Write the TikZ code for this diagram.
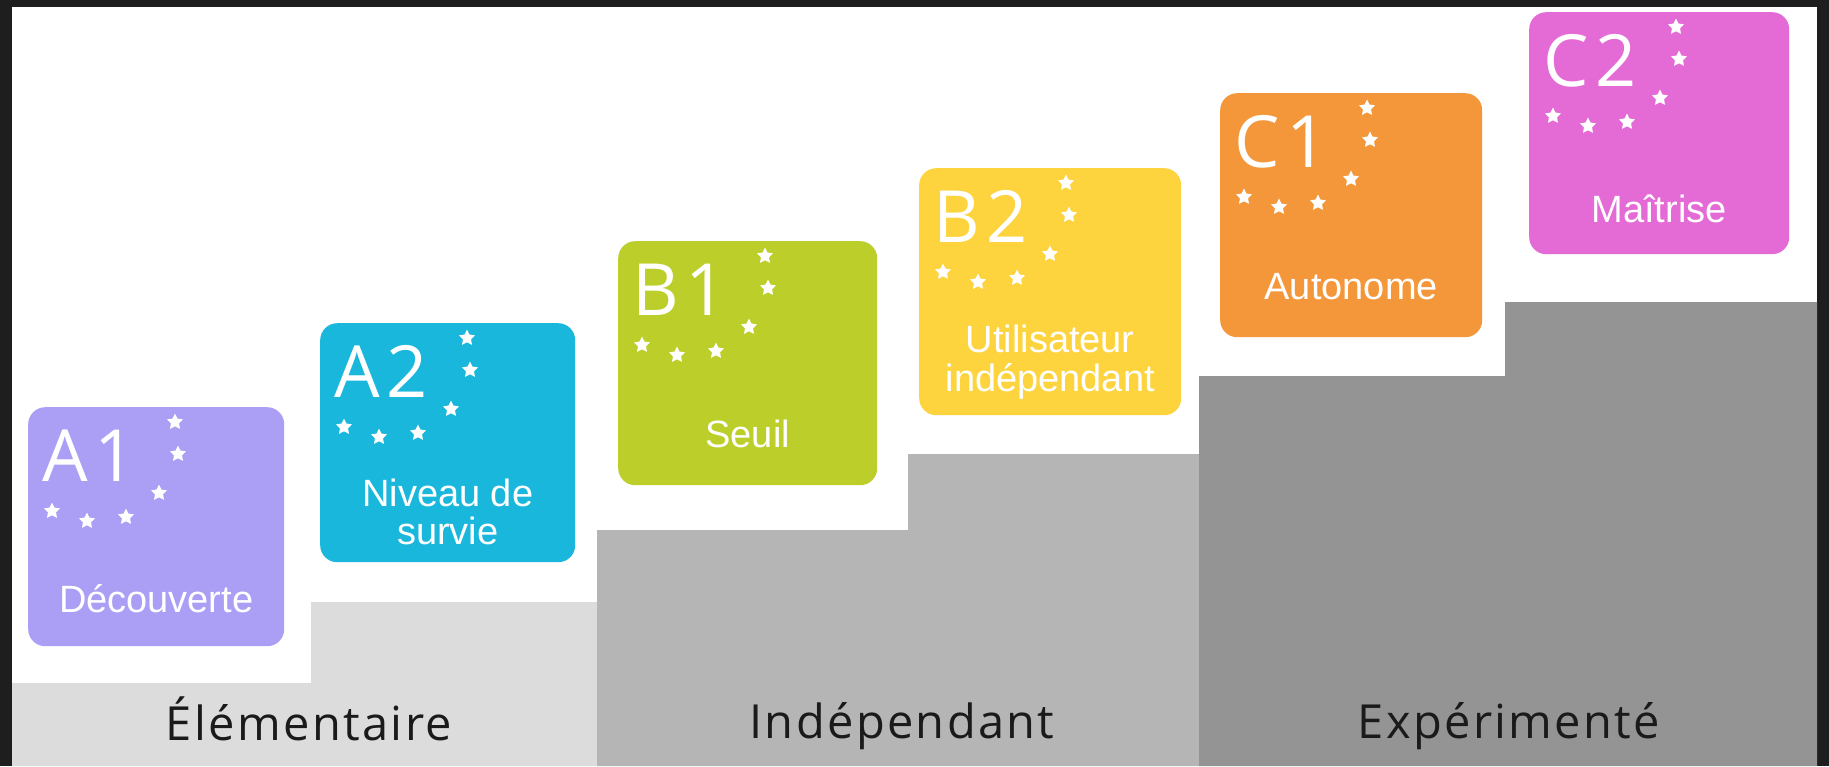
\documentclass[tikz,border=0pt]{standalone}
\usepackage{fontspec}
\usetikzlibrary{shapes.geometric,calc}
\newfontfamily\lvlfont[LetterSpace=10]{Open Sans}
\newfontfamily\descfont{Liberation Sans}
\newfontfamily\catfont[LetterSpace=5]{Open Sans}
\definecolor{frameclr}{HTML}{1E1E1E}
\definecolor{grayA}{HTML}{DCDCDC}
\definecolor{grayB}{HTML}{B5B5B5}
\definecolor{grayC}{HTML}{949494}
\definecolor{catclr}{HTML}{1A1A1A}
\definecolor{clrAone}{HTML}{AB9EF5}
\definecolor{clrAtwo}{HTML}{1AB7DC}
\definecolor{clrBone}{HTML}{BCCE2A}
\definecolor{clrBtwo}{HTML}{FDD33E}
\definecolor{clrCone}{HTML}{F4973A}
\definecolor{clrCtwo}{HTML}{E46AD6}
\tikzset{
  lvbox/.style={rectangle, rounded corners=17pt, anchor=north west, inner sep=0pt, draw=none},
  starmark/.style={star, star points=5, star point ratio=2.0, fill=white, draw=none, minimum size=17pt, inner sep=0pt},
  lvlabel/.style={anchor=base west, text=white, inner sep=0pt, font=\lvlfont\fontsize{72}{80}\selectfont},
  desc/.style={anchor=base, text=white, inner sep=0pt, font=\descfont\fontsize{38}{37}\selectfont},
  cattext/.style={anchor=base, text=catclr, inner sep=0pt, font=\catfont\fontsize{47}{50}\selectfont},
}
% #1 name, #2 x, #3 y, #4 w, #5 h, #6 colour, #7 label, #8 desc baseline, #9 desc
\newcommand{\cefrbox}[9]{%
  \node[lvbox, fill=#6, minimum width=#4pt, minimum height=#5pt] (#1) at (#2,#3) {};
  \node[lvlabel] (#1lab) at ($(#1.north west)+(14,74)$) {#7};
  \foreach \sx/\sy [count=\k] in {147/15,150/47,131/86,98/110,59/114,24/104}{
    \node[starmark] (#1s\k) at ($(#1.north west)+(\sx,\sy)$) {};
  }
  \node[desc] (#1desc) at ($(#1.north)+(0,#8)$) {\begin{tabular}[t]{@{}c@{}}#9\end{tabular}};
}
\begin{document}
\begin{tikzpicture}[x=1pt,y=-1pt]
\useasboundingbox (0,0) rectangle (1829,766);
\fill[frameclr] (0,0) rectangle (1829,766);
\fill[white] (12,7) rectangle (1817,766);
% steps
\fill[grayA] (12,683) -- (311,683) -- (311,602) -- (597,602) -- (597,766) -- (12,766) -- cycle;
\fill[grayB] (597,530) -- (908,530) -- (908,454) -- (1199,454) -- (1199,766) -- (597,766) -- cycle;
\fill[grayC] (1199,376) -- (1505,376) -- (1505,302) -- (1817,302) -- (1817,766) -- (1199,766) -- cycle;
% level boxes
\cefrbox{aone}{28}{407}{256}{239}{clrAone}{A1}{205}{Découverte}
\cefrbox{atwo}{320}{323}{255}{239}{clrAtwo}{A2}{183}{Niveau de\\survie}
\cefrbox{bone}{618}{241}{259}{244}{clrBone}{B1}{206}{Seuil}
\cefrbox{btwo}{919}{168}{262}{247}{clrBtwo}{B2}{184}{Utilisateur\\indépendant}
\cefrbox{cone}{1220}{93}{262}{244}{clrCone}{C1}{206}{Autonome}
\cefrbox{ctwo}{1529}{12}{260}{242}{clrCtwo}{C2}{210}{Maîtrise}
% categories
\node[cattext] (elem) at (309,740) {Élémentaire};
\node[cattext] (indep) at (902,738) {Indépendant};
\node[cattext] (expert) at (1509,738) {Expérimenté};
\end{tikzpicture}
\end{document}
